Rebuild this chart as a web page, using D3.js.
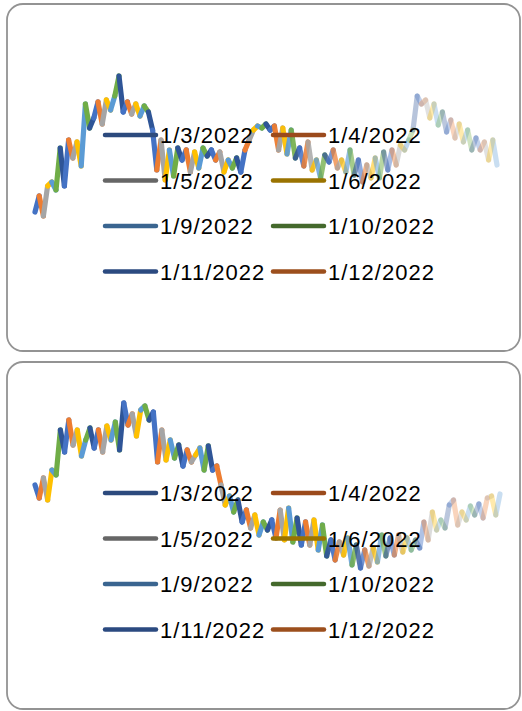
<!DOCTYPE html>
<html>
<head>
<meta charset="utf-8">
<script src="https://cdn.jsdelivr.net/npm/d3@7"></script>
<style>
body{margin:0;background:#fff;}
svg{display:block;}
</style>
</head>
<body>
<div id="chart"></div>
<script>
// legend entries
const legendLabels = ["1/3/2022","1/4/2022","1/5/2022","1/6/2022","1/9/2022","1/10/2022","1/11/2022","1/12/2022"];
const legendColors = ["#2c4a7d","#9b4a1c","#666666","#9a7300","#3a6590","#44692c","#2b4a80","#9c4f1d"];

// colours cycling along the price line
const segmentColors = ["#4472C4","#ED7D31","#A5A5A5","#FFC000","#5B9BD5","#70AD47","#2F5597"];

// price values, top chart
const topValues = [
	88,104,84,114,118,110,152,114,160,142,
	158,134,196,172,182,198,176,200,190,204,
	224,188,198,186,196,184,194,188,170,130,
	160,120,150,124,152,140,150,128,148,132,
	152,144,150,140,148,128,140,132,142,128,
	150,160,170,174,172,176,170,174,150,172,
	146,170,142,152,134,158,130,140,122,145,
	138,150,132,140,128,150,125,140,118,135,
	122,142,122,148,130,150,135,155,150,160,
	170,204,196,200,182,196,175,188,168,180,
	162,176,158,170,150,162,150,158,140,160,135
];

// price values, bottom chart
const bottomValues = [
	175,162,182,160,190,185,230,208,240,215,
	230,204,220,232,212,230,208,234,220,238,
	210,257,235,246,224,250,254,240,248,198,
	230,200,220,202,215,194,210,198,205,212,
	190,214,190,194,175,155,164,148,160,138,
	150,132,145,125,138,130,140,122,150,120,
	152,118,142,115,138,115,140,110,135,104,
	120,100,118,105,122,95,115,92,110,94,
	112,98,125,104,122,105,125,108,122,110,
	120,112,138,120,148,130,140,132,155,160,
	135,148,140,154,145,156,142,162,164,145,166
];

const width = 522, height = 711;

let svg = d3.select("#chart")
	.append("svg")
	.attr("width", width)
	.attr("height", height);

function drawPanel(cfg){

	let g = svg.append("g").attr("transform", `translate(0,${cfg.top})`);

	//frame
	g.append("rect")
		.attr("x", 7)
		.attr("y", 0)
		.attr("width", 513)
		.attr("height", 347)
		.attr("rx", 16)
		.attr("fill", "#fff")
		.attr("stroke", "#939393")
		.attr("stroke-width", 1.8);

	let x = d3.scaleLinear()
		.domain([0, cfg.values.length - 1])
		.range(cfg.xRange);

	let y = d3.scaleLinear()
		.domain(cfg.yDomain)
		.range(cfg.yRange);

	//line fades out to the right
	let fade = d3.scaleLinear()
		.domain(cfg.fade)
		.range([1, 0.32])
		.clamp(true);

	let pts = cfg.values.map((v, i) => ({i: i, v: v}));

	g.append("g")
		.selectAll("line")
		.data(d3.pairs(pts))
		.join("line")
		.attr("x1", d => x(d[0].i))
		.attr("y1", d => y(d[0].v))
		.attr("x2", d => x(d[1].i))
		.attr("y2", d => y(d[1].v))
		.attr("stroke", d => segmentColors[d[0].i % segmentColors.length])
		.attr("stroke-width", 5.2)
		.attr("stroke-linecap", "round")
		.attr("opacity", d => fade((x(d[0].i) + x(d[1].i)) / 2));

	//legend
	let leg = g.append("g")
		.selectAll("g")
		.data(legendLabels)
		.join("g")
		.attr("transform", (d, k) => `translate(${k % 2 ? 273 : 105},${131 + Math.floor(k / 2) * 45.5})`);

	leg.append("line")
		.attr("x1", 0)
		.attr("x2", 51)
		.attr("stroke", (d, k) => legendColors[k])
		.attr("stroke-width", 4.5)
		.attr("stroke-linecap", "round");

	leg.append("text")
		.attr("x", 55)
		.attr("y", 8)
		.attr("font-family", "Liberation Sans, Arial, sans-serif")
		.attr("font-size", 22)
		.attr("letter-spacing", 1)
		.attr("fill", "#000")
		.text(d => d);
}

drawPanel({top: 4, values: topValues, xRange: [35, 497], yDomain: [80, 230], yRange: [216, 66], fade: [270, 420]});
drawPanel({top: 362, values: bottomValues, xRange: [35, 500], yDomain: [90, 260], yRange: [208, 38], fade: [320, 440]});

</script>
</body>
</html>
